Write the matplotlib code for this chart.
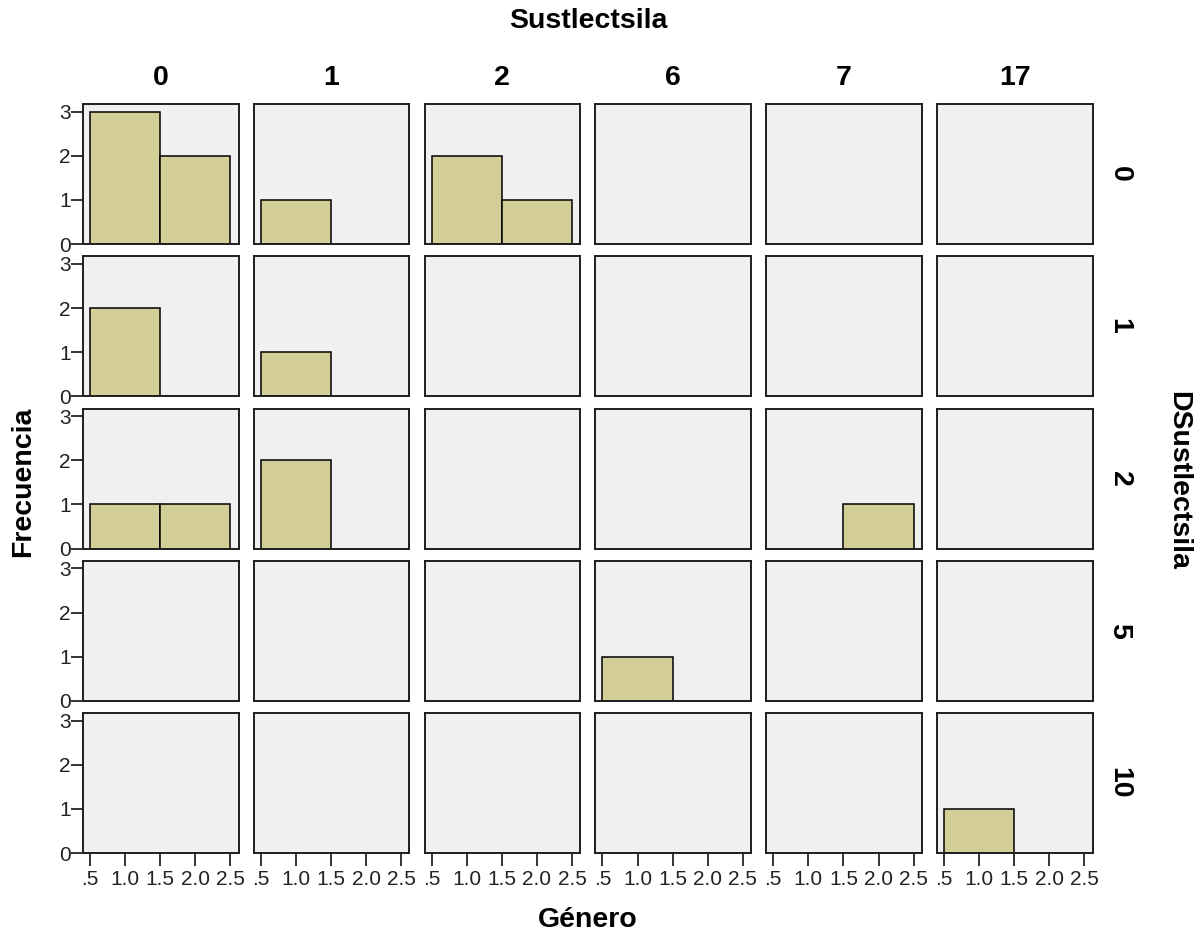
import matplotlib
matplotlib.use("Agg")
import matplotlib.pyplot as plt

plt.rcParams["font.family"] = ["Liberation Sans", "DejaVu Sans"]

# Sustlectsila (columns) x DSustlectsila (rows), counts per Género bin
col_values = ["0", "1", "2", "6", "7", "17"]
row_values = ["0", "1", "2", "5", "10"]
genero_bins = [1.0, 2.0]
count_genero_1 = [
    [3, 1, 2, 0, 0, 0],
    [2, 1, 0, 0, 0, 0],
    [1, 2, 0, 0, 0, 0],
    [0, 0, 0, 1, 0, 0],
    [0, 0, 0, 0, 0, 1],
]
count_genero_2 = [
    [2, 0, 1, 0, 0, 0],
    [0, 0, 0, 0, 0, 0],
    [1, 0, 0, 0, 1, 0],
    [0, 0, 0, 0, 0, 0],
    [0, 0, 0, 0, 0, 0],
]
x_ticks = [0.5, 1.0, 1.5, 2.0, 2.5]
x_tick_labels = [".5", "1.0", "1.5", "2.0", "2.5"]
y_ticks = [0, 1, 2, 3]
y_tick_labels = ["0", "1", "2", "3"]

W, H = 1201, 938
fig = plt.figure(figsize=(W / 100, H / 100), dpi=100)

bar_color = "#d3ce97"
panel_bg = "#f0f0f0"
frame_color = "#1e1e1e"

left0, top0 = 83, 104
pw, ph = 155.5, 140
dx, dy = 170.8, 152.25


def px_rect(x, y, w, h):
    return [x / W, 1 - (y + h) / H, w / W, h / H]


for r, rv in enumerate(row_values):
    for c, cv in enumerate(col_values):
        ax = fig.add_axes(px_rect(left0 + c * dx, top0 + r * dy, pw, ph))
        ax.set_facecolor(panel_bg)
        heights = [count_genero_1[r][c], count_genero_2[r][c]]
        for xb, hb in zip(genero_bins, heights):
            if hb > 0:
                ax.bar(xb, hb, width=1.0, color=bar_color, edgecolor="black", linewidth=1.1, zorder=2)
        ax.set_xlim(0.4, 2.614)
        ax.set_ylim(0, 3.175)
        for s in ax.spines.values():
            s.set_color(frame_color)
            s.set_linewidth(1.4)
        ax.tick_params(axis="y", direction="out", length=8.5, width=1.4, color="#333333",
                       labelsize=15, labelcolor="#222222", pad=0.5)
        ax.tick_params(axis="x", direction="out", length=9, width=1.4, color="#333333",
                       labelsize=15, labelcolor="#222222", pad=3)
        if c == 0:
            ax.set_yticks(y_ticks)
            ax.set_yticklabels(y_tick_labels)
        else:
            ax.set_yticks([])
        if r == len(row_values) - 1:
            ax.set_xticks(x_ticks)
            ax.set_xticklabels(x_tick_labels)
        else:
            ax.set_xticks([])
        if r == 0:
            ax.text(0.5, 1.0 + 26 / ph, cv, transform=ax.transAxes, ha="center", va="center",
                    fontsize=20.5, fontweight="bold")
        if c == len(col_values) - 1:
            ax.text(1.0 + 27 / pw, 0.5, rv, transform=ax.transAxes, ha="center", va="center",
                    rotation=-90, fontsize=20.5, fontweight="bold")

fig.text(588 / W, 1 - 21 / H, "Sustlectsila", ha="center", va="center", fontsize=20.5, fontweight="bold")
fig.text(588 / W, 1 - 920 / H, "Género", ha="center", va="center", fontsize=20.5, fontweight="bold")
fig.text(23 / W, 1 - 482 / H, "Frecuencia", ha="center", va="center", rotation=90,
         fontsize=20.5, fontweight="bold")
fig.text(1178 / W, 1 - 480 / H, "DSustlectsila", ha="center", va="center", rotation=-90,
         fontsize=20.5, fontweight="bold")

fig.savefig("out.png", dpi=100)
